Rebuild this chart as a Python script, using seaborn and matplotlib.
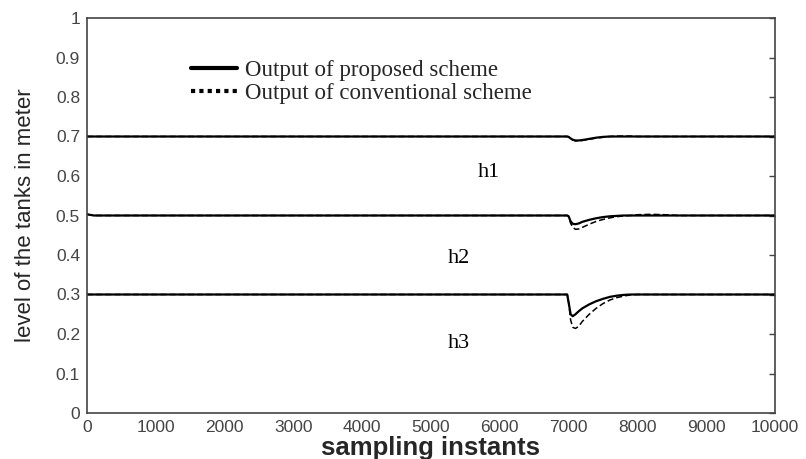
import matplotlib
matplotlib.use("Agg")
import matplotlib.pyplot as plt
import seaborn as sns
import pandas as pd
from matplotlib.lines import Line2D

# ---- data ----
t = [0, 100, 6980, 7000, 7030, 7060, 7100, 7150, 7200, 7300, 7400, 7500,
     7600, 7700, 7800, 7900, 8000, 8200, 8400, 8600, 10000]
h1_prop = [0.700, 0.700, 0.700, 0.699, 0.695, 0.692, 0.690, 0.690, 0.691, 0.694, 0.697,
           0.699, 0.700, 0.700, 0.700, 0.700, 0.700, 0.700, 0.700, 0.700, 0.700]
h1_conv = [0.700, 0.700, 0.700, 0.699, 0.694, 0.691, 0.689, 0.689, 0.690, 0.693, 0.696,
           0.698, 0.700, 0.701, 0.701, 0.701, 0.700, 0.700, 0.700, 0.700, 0.700]
h2_prop = [0.503, 0.500, 0.500, 0.498, 0.485, 0.479, 0.478, 0.480, 0.484, 0.489, 0.493,
           0.496, 0.498, 0.499, 0.500, 0.500, 0.500, 0.500, 0.500, 0.500, 0.500]
h2_conv = [0.503, 0.500, 0.500, 0.498, 0.480, 0.470, 0.465, 0.466, 0.470, 0.478, 0.485,
           0.490, 0.494, 0.497, 0.499, 0.500, 0.502, 0.503, 0.502, 0.500, 0.500]
h3_prop = [0.300, 0.300, 0.300, 0.280, 0.250, 0.245, 0.250, 0.258, 0.265, 0.275, 0.283,
           0.289, 0.294, 0.297, 0.299, 0.300, 0.300, 0.300, 0.300, 0.300, 0.300]
h3_conv = [0.300, 0.300, 0.300, 0.280, 0.235, 0.217, 0.214, 0.220, 0.232, 0.250, 0.265,
           0.277, 0.286, 0.292, 0.296, 0.299, 0.300, 0.300, 0.300, 0.300, 0.300]

tank_names = ["h1", "h2", "h3"]
tank_label_x = [5680, 5250, 5250]
tank_label_y = [0.608, 0.392, 0.177]
legend_labels = ["Output of proposed scheme", "Output of conventional scheme"]
x_ticks = [0, 1000, 2000, 3000, 4000, 5000, 6000, 7000, 8000, 9000, 10000]
y_ticks = [0, 0.1, 0.2, 0.3, 0.4, 0.5, 0.6, 0.7, 0.8, 0.9, 1]
y_tick_labels = ["0", "0.1", "0.2", "0.3", "0.4", "0.5", "0.6", "0.7", "0.8", "0.9", "1"]

sns.set_style("white")
plt.rcParams["font.family"] = ["Liberation Sans", "DejaVu Sans"]

fig = plt.figure(figsize=(8.06, 4.59), dpi=100)
ax = fig.add_axes([87 / 806, 1 - 413 / 459, (775 - 87) / 806, (413 - 18) / 459])

series = {"h1": (h1_prop, h1_conv), "h2": (h2_prop, h2_conv), "h3": (h3_prop, h3_conv)}
for name in tank_names:
    prop, conv = series[name]
    df = pd.DataFrame({"t": t, "prop": prop, "conv": conv})
    sns.lineplot(data=df, x="t", y="conv", ax=ax, color="black", lw=1.1,
                 linestyle=(0, (4, 2)), estimator=None, sort=False)
    sns.lineplot(data=df, x="t", y="prop", ax=ax, color="black", lw=1.6,
                 estimator=None, sort=False)

for name, lx, ly in zip(tank_names, tank_label_x, tank_label_y):
    ax.text(lx, ly, name, fontsize=16, family=["Liberation Serif"], color="black",
            ha="left", va="center")

ax.set_xlim(0, 10000)
ax.set_ylim(0, 1)
ax.set_xticks(x_ticks)
ax.set_xticklabels([str(v) for v in x_ticks])
ax.set_yticks(y_ticks)
ax.set_yticklabels(y_tick_labels)
ax.tick_params(direction="in", length=4, width=1, top=False, right=True,
               labelsize=12.5, labelcolor="#444444", color="#444444", pad=5)
ax.set_xlabel("sampling instants", fontsize=18.5, fontweight="bold", labelpad=1)
ax.set_ylabel("level of the tanks in meter", fontsize=16, labelpad=14)
for sp in ax.spines.values():
    sp.set_color("#444444")
    sp.set_linewidth(1.2)
ax.grid(False)

handles = [Line2D([], [], color="black", lw=3, linestyle="-"),
           Line2D([], [], color="black", lw=3, linestyle=(0, (1, 1)))]
fig.legend(handles, legend_labels, loc="upper left",
           bbox_to_anchor=(191 / 806, 1 - 60 / 459), frameon=False,
           prop={"family": "Liberation Serif", "size": 16.5},
           handlelength=2.0, handletextpad=0.35, labelspacing=0.08,
           borderpad=0, borderaxespad=0)

fig.savefig("out.png", dpi=100, facecolor="white")
